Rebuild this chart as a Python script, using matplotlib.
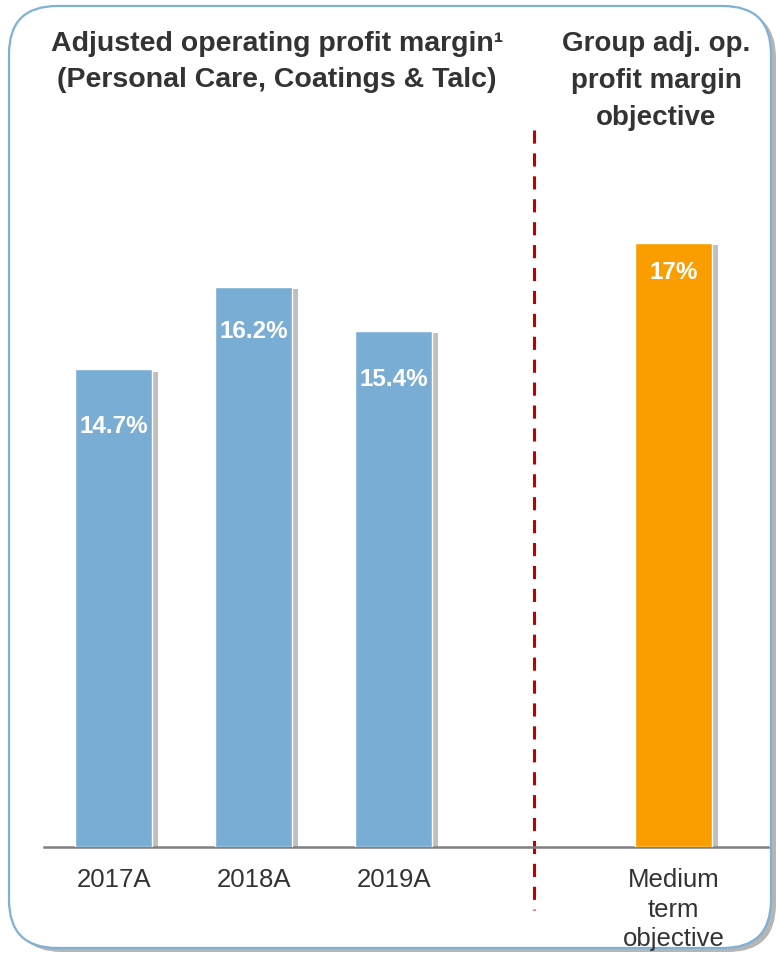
import matplotlib
matplotlib.use("Agg")
import matplotlib.pyplot as plt
import matplotlib.patheffects as pe
from matplotlib.patches import FancyBboxPatch
from matplotlib.transforms import IdentityTransform, blended_transform_factory

# ------------------------------------------------------------------ data
categories = ["2017A", "2018A", "2019A", "Medium\nterm\nobjective"]
values = [14.7, 16.2, 15.4, 17.0]
labels = ["14.7%", "16.2%", "15.4%", "17%"]
positions = [0, 1, 2, 4]
title_left = "Adjusted operating profit margin\u00b9\n(Personal Care, Coatings & Talc)"
title_right = "Group adj. op.\nprofit margin\nobjective"

BLUE, ORANGE, RED, TXT = "#7aadd4", "#fa9e00", "#c00000", "#333333"
colors = [BLUE, BLUE, BLUE, ORANGE]
label_drop = [1.05, 0.82, 0.90, 0.55]   # label offset below bar top (data units)
FONT = ["Liberation Sans", "DejaVu Sans"]

W, H = 780, 956
fig = plt.figure(figsize=(W / 100, H / 100), dpi=100)

# rounded frame: gray shadow behind, white card with blue edge on top
fig.patches.append(FancyBboxPatch((14, 4), W - 18, H - 14,
                                  boxstyle="round,pad=0,rounding_size=48",
                                  transform=IdentityTransform(), fc="#b5b5b5",
                                  ec="none", zorder=-3))
fig.patches.append(FancyBboxPatch((9, 8), W - 18, H - 14,
                                  boxstyle="round,pad=0,rounding_size=48",
                                  transform=IdentityTransform(), fc="white",
                                  ec="#7fb0d6", lw=1.6, zorder=-2))

ax = fig.add_axes([44 / W, (H - 847) / H, (768 - 44) / W, (847 - 130) / H])
ax.patch.set_alpha(0)
ax.set_xlim(-0.5, 4.675)
ax.set_ylim(6, 19.05)

bars = ax.bar(positions, [v - 6 for v in values], bottom=6, width=0.55,
              color=colors, edgecolor="white", linewidth=1.0, zorder=3)
for b in bars:
    b.set_path_effects([pe.SimplePatchShadow(offset=(4, -2), shadow_rgbFace="#808080", alpha=0.5),
                        pe.Normal()])

for x, v, t, d in zip(positions, values, labels, label_drop):
    ax.text(x, v - d, t, ha="center", va="center", color="white",
            fontsize=17.5, fontweight="bold", family=FONT, zorder=4)

# divider between actuals and objective (drawn top-down so a dash starts at the top)
tr = blended_transform_factory(ax.transData, ax.transAxes)
ax.plot([3.0, 3.0], [1.0, -0.088], transform=tr, color=RED, lw=2.2,
        dashes=(4.3, 3.2), clip_on=False, zorder=2)

for s in ["top", "right", "left"]:
    ax.spines[s].set_visible(False)
ax.spines["bottom"].set_color("#808080")
ax.spines["bottom"].set_linewidth(1.8)
ax.set_yticks([])
ax.set_xticks(positions)
ax.set_xticklabels(categories, fontsize=18.5, color=TXT, family=FONT, linespacing=1.3)
ax.tick_params(axis="x", length=0, pad=15)

fig.text(277 / W, 1 - 31 / H, title_left, ha="center", va="top", fontsize=20.5,
         fontweight="bold", color=TXT, family=FONT, linespacing=1.5)
fig.text(656 / W, 1 - 31 / H, title_right, ha="center", va="top", fontsize=20,
         fontweight="bold", color=TXT, family=FONT, linespacing=1.55)

fig.savefig("out.png", dpi=100)
